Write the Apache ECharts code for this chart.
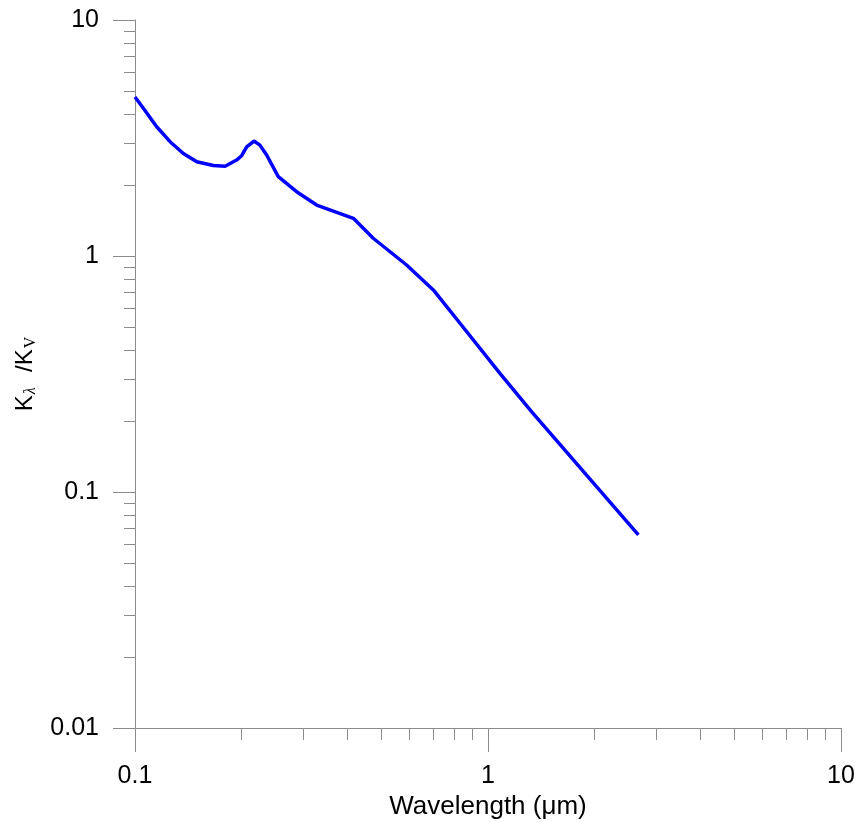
<!DOCTYPE html>
<html>
<head>
<meta charset="utf-8">
<script src="https://cdn.jsdelivr.net/npm/echarts@6/dist/echarts.min.js"></script>
<style>html,body{margin:0;padding:0;background:#fff}#c{width:859px;height:822px}</style>
</head>
<body>
<div id="c"></div>
<script>
// Wavelength (μm)
var wavelength = [0.1, 0.1056, 0.1152, 0.1257, 0.1371, 0.1496, 0.1667, 0.18, 0.194, 0.2005, 0.2072, 0.2173, 0.2259, 0.236, 0.2546, 0.287, 0.327, 0.4155, 0.473, 0.588, 0.70, 0.833, 1.081, 1.332, 2.667];
// K_lambda / K_V
var ratio = [4.72, 4.23, 3.53, 3.05, 2.72, 2.51, 2.42, 2.40, 2.55, 2.66, 2.90, 3.07, 2.95, 2.68, 2.17, 1.873, 1.644, 1.444, 1.189, 0.916, 0.718, 0.519, 0.318, 0.218, 0.0658];
var xMajor = [0.1, 1, 10];
var xMinor = [0.2,0.3,0.4,0.5,0.6,0.7,0.8,0.9,2,3,4,5,6,7,8,9];
var yMajor = [0.01, 0.1, 1, 10];
var yMinor = [0.02,0.03,0.04,0.05,0.06,0.07,0.08,0.09,0.2,0.3,0.4,0.5,0.6,0.7,0.8,0.9,2,3,4,5,6,7,8,9];

var data = wavelength.map(function(w, i){ return [w, ratio[i]]; });
var axColor = '#8c8c8c';
var font = '"Liberation Sans", Arial, sans-serif';

var chart = echarts.init(document.getElementById('c'));
chart.setOption({
  animation: false,
  grid: {left: 135, top: 20, right: 18, bottom: 94, containLabel: false, outerBoundsMode: 'none'},
  xAxis: [{
    type: 'log', logBase: 10, min: 0.1, max: 10, position: 'bottom',
    name: 'Wavelength (\u03bcm)', nameLocation: 'middle', nameGap: 65,
    nameTextStyle: {fontFamily: font, fontSize: 26, color: '#000'},
    axisLine: {show: true, lineStyle: {color: axColor, width: 1}},
    axisTick: {show: true, inside: false, length: 24, lineStyle: {color: axColor}, customValues: xMajor},
    axisLabel: {fontFamily: font, fontSize: 25, color: '#000', margin: 36, customValues: xMajor,
      formatter: function(v){ return String(+v.toPrecision(3)); }},
    splitLine: {show: false}, minorTick: {show: false}
  }, {
    type: 'log', logBase: 10, min: 0.1, max: 10, position: 'bottom',
    axisLine: {show: false},
    axisTick: {show: true, inside: false, length: 12, lineStyle: {color: axColor}, customValues: xMinor},
    axisLabel: {show: false}, splitLine: {show: false}
  }],
  yAxis: [{
    type: 'log', logBase: 10, min: 0.01, max: 10, position: 'left',
    name: '{k|K}{s|\u03bb}{k|  /K}{v|V}', nameLocation: 'middle', nameRotate: 90, nameGap: 96,
    nameTextStyle: {
      fontFamily: font, fontSize: 24, color: '#000',
      rich: {
        k: {fontFamily: font, fontSize: 24, color: '#000'},
        s: {fontFamily: 'Liberation Serif, serif', fontStyle: 'italic', fontSize: 16, color: '#000', verticalAlign: 'bottom', padding: [12, 2, 0, 1]},
        v: {fontFamily: 'Liberation Serif, serif', fontSize: 16, color: '#000', verticalAlign: 'bottom', padding: [12, 0, 0, 1]}
      }
    },
    axisLine: {show: true, lineStyle: {color: axColor, width: 1}},
    axisTick: {show: true, inside: false, length: 22, lineStyle: {color: axColor}, customValues: yMajor},
    axisLabel: {fontFamily: font, fontSize: 25, color: '#000', margin: 36, customValues: yMajor,
      formatter: function(v){ return String(+v.toPrecision(3)); }},
    splitLine: {show: false}, minorTick: {show: false}
  }, {
    type: 'log', logBase: 10, min: 0.01, max: 10, position: 'left',
    axisLine: {show: false},
    axisTick: {show: true, inside: false, length: 11, lineStyle: {color: axColor}, customValues: yMinor},
    axisLabel: {show: false}, splitLine: {show: false}
  }],
  series: [{
    type: 'line', xAxisIndex: 0, yAxisIndex: 0, data: data,
    showSymbol: false, smooth: false,
    lineStyle: {color: '#0000ff', width: 3.5}
  }]
});
</script>
</body>
</html>
